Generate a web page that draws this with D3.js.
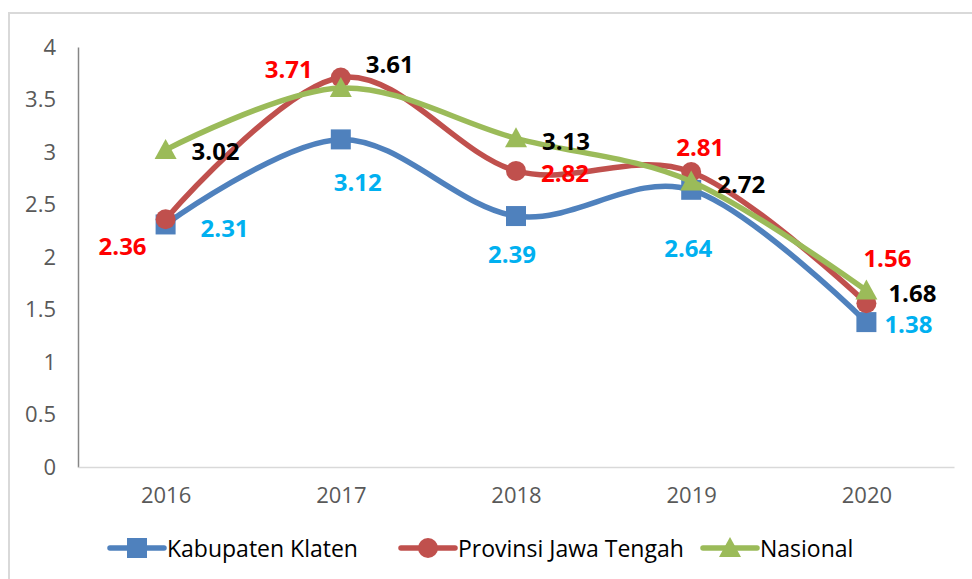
<!DOCTYPE html>
<html>
<head>
<meta charset="utf-8">
<script src="https://cdn.jsdelivr.net/npm/d3@7"></script>
<style>
  body { margin: 0; background: #fff; }
  text { font-family: "Open Sans", sans-serif; }
</style>
</head>
<body>
<div id="canvas"></div>
<script>
const years = ["2016", "2017", "2018", "2019", "2020"];
const klaten = [2.31, 3.12, 2.39, 2.64, 1.38];
const jateng = [2.36, 3.71, 2.82, 2.81, 1.56];
const nasional = [3.02, 3.61, 3.13, 2.72, 1.68];
const yTicks = [0, 0.5, 1, 1.5, 2, 2.5, 3, 3.5, 4];
const seriesNames = ["Kabupaten Klaten", "Provinsi Jawa Tengah", "Nasional"];

// label offsets from the point (text centre)
const labelOffsets = [
  [[59, 3], [17, 42], [-4, 37], [-3, 58], [42, 1]],
  [[-43, 26], [-52, -9], [49, 2], [9, -25], [21, -46]],
  [[50, 1], [49, -24], [50, 2], [50, 2], [46, 2]]
];

const series = [
  { name: seriesNames[0], values: klaten, color: "#4f81bd", label: "#00b0f0", marker: "square", legendX: 110 },
  { name: seriesNames[1], values: jateng, color: "#c0504d", label: "#ff0000", marker: "circle", legendX: 401 },
  { name: seriesNames[2], values: nasional, color: "#9bbb59", label: "#000000", marker: "triangle", legendX: 703 }
];

const width = 972;
const height = 579;
const margin = { top: 47, left: 78, bottom: 112, right: 18 };
const iwidth = width - margin.left - margin.right;
const iheight = height - margin.top - margin.bottom;

const svg = d3.select("#canvas")
  .append("svg")
  .attr("width", width)
  .attr("height", height);

// outer frame
svg.append("rect")
  .attr("x", 9).attr("y", 13)
  .attr("width", 1000).attr("height", 1000)
  .attr("fill", "none")
  .attr("stroke", "#d9d9d9")
  .attr("stroke-width", 2);

const g = svg.append("g")
  .attr("transform", `translate(${margin.left},${margin.top})`);

const x = d3.scalePoint().domain(years).range([0, iwidth]).padding(0.5);
const y = d3.scaleLinear().domain([0, 4]).range([iheight, 0]);

// y axis
const yAxis = g.append("g")
  .call(d3.axisLeft(y).tickValues(yTicks).tickSize(0).tickPadding(22).tickFormat(d => String(d)));
yAxis.select(".domain").attr("stroke", "#868686").attr("stroke-width", 1.5);
yAxis.selectAll("text").attr("font-size", 22).attr("fill", "#595959")
  .attr("font-family", "'Open Sans', sans-serif");

// x axis
const xAxis = g.append("g")
  .attr("transform", `translate(0,${iheight})`)
  .call(d3.axisBottom(x).tickSize(0).tickPadding(20));
xAxis.select(".domain").attr("stroke", "#d9d9d9").attr("stroke-width", 1.5);
xAxis.selectAll("text").attr("font-size", 22).attr("fill", "#595959")
  .attr("font-family", "'Open Sans', sans-serif");

const line = d3.line()
  .x((d, i) => x(years[i]))
  .y(d => y(d))
  .curve(d3.curveCardinal.tension(0));

const drawMarker = (sel, type, color) => {
  if (type === "square") {
    sel.append("rect").attr("x", -10).attr("y", -10).attr("width", 20).attr("height", 20).attr("fill", color);
  } else if (type === "circle") {
    sel.append("circle").attr("r", 10).attr("fill", color);
  } else {
    sel.append("path").attr("d", "M0,-11 L11,9 L-11,9 Z").attr("fill", color);
  }
};

series.forEach((s, si) => {
  g.append("path")
    .datum(s.values)
    .attr("fill", "none")
    .attr("stroke", s.color)
    .attr("stroke-width", 5.5)
    .attr("stroke-linecap", "round")
    .attr("d", line);

  g.selectAll(".m" + si)
    .data(s.values)
    .enter()
    .append("g")
    .attr("class", "m" + si)
    .attr("transform", (d, i) => `translate(${x(years[i])},${y(d)})`)
    .each(function() { drawMarker(d3.select(this), s.marker, s.color); });
});

// data labels on top
series.forEach((s, si) => {
  g.selectAll(".l" + si)
    .data(s.values)
    .enter()
    .append("text")
    .attr("class", "l" + si)
    .attr("x", (d, i) => x(years[i]) + labelOffsets[si][i][0])
    .attr("y", (d, i) => y(d) + labelOffsets[si][i][1])
    .attr("text-anchor", "middle")
    .attr("dominant-baseline", "central")
    .attr("font-size", 24)
    .attr("font-weight", "bold")
    .attr("fill", s.label)
    .text(d => d.toFixed(2));
});

// legend
const legend = svg.append("g").attr("transform", "translate(0,548)");
series.forEach(s => {
  const lg = legend.append("g").attr("transform", `translate(${s.legendX},0)`);
  lg.append("line")
    .attr("x1", 0).attr("x2", 54)
    .attr("stroke", s.color).attr("stroke-width", 5.5).attr("stroke-linecap", "round");
  drawMarker(lg.append("g").attr("transform", "translate(27,0)"), s.marker, s.color);
  lg.append("text")
    .attr("x", 57)
    .attr("dominant-baseline", "central")
    .attr("font-size", 23)
    .attr("fill", "#000")
    .text(s.name);
});
</script>
</body>
</html>
